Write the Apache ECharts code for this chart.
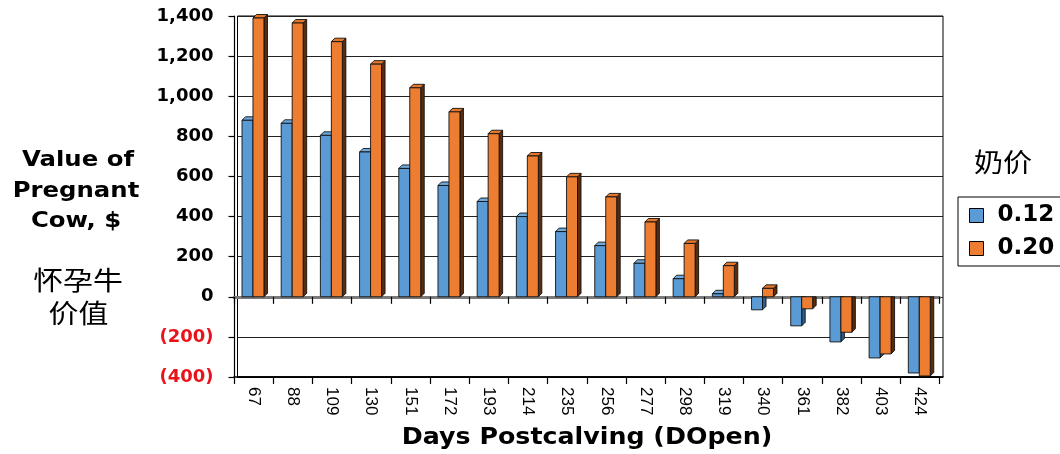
<!DOCTYPE html>
<html>
<head>
<meta charset="utf-8">
<script src="https://cdn.jsdelivr.net/npm/echarts@6/dist/echarts.min.js"></script>
<style>
  html, body { margin: 0; padding: 0; background: #fff; }
  #chart { width: 1060px; height: 454px; }
</style>
</head>
<body>
<div id="chart"></div>
<script>
// Days open after calving (category axis)
const days = ['67', '88', '109', '130', '151', '172', '193', '214', '235',
              '256', '277', '298', '319', '340', '361', '382', '403', '424'];
// Value of a pregnant cow ($) at two milk prices
const milk012 = [880, 865, 805, 722, 640, 555, 475, 400, 325,
                 255, 167, 90, 15, -65, -145, -225, -305, -380];
const milk020 = [1390, 1365, 1272, 1160, 1042, 922, 813, 702, 598,
                 498, 373, 266, 155, 42, -60, -177, -285, -395];
const seriesNames = ['0.12', '0.20'];
// Value axis range and step
const yMin = -400, yMax = 1400, yStep = 200;

const BOLD = 'DejaVu Sans';
const DEPTH = 3.5;   // fake 3-D depth in px

function withCommas(n) {
  return String(n).replace(/\B(?=(\d{3})+(?!\d))/g, ',');
}

// Pseudo 3-D column: front face, right side face and top face
function column3d(shift, front, sideCol, topCol) {
  return function (params, api) {
    const cat = api.value(0), v = api.value(1);
    const p = api.coord([cat, v]);
    const z = api.coord([cat, 0]);
    const band = api.size([1, 0])[0];
    const w = band * 0.28;
    const x0 = p[0] + shift * band, x1 = x0 + w;
    const yt = Math.min(p[1], z[1]), yb = Math.max(p[1], z[1]);
    const d = DEPTH;
    const stroke = { stroke: '#111', lineWidth: 0.9 };
    const kids = [];
    if (v >= 0) {
      kids.push({ type: 'polygon', shape: { points: [[x1, yt], [x1 + d, yt - d], [x1 + d, yb - d], [x1, yb]] },
                  style: Object.assign({ fill: sideCol }, stroke) });
      kids.push({ type: 'polygon', shape: { points: [[x0, yt], [x1, yt], [x1 + d, yt - d], [x0 + d, yt - d]] },
                  style: Object.assign({ fill: topCol }, stroke) });
    } else {
      kids.push({ type: 'polygon', shape: { points: [[x1, yt], [x1 + d, yt], [x1 + d, yb - d], [x1, yb]] },
                  style: Object.assign({ fill: sideCol }, stroke) });
    }
    kids.push({ type: 'rect', shape: { x: x0, y: yt, width: w, height: yb - yt },
                style: Object.assign({ fill: front }, stroke) });
    return { type: 'group', children: kids };
  };
}

const chart = echarts.init(document.getElementById('chart'), null, { renderer: 'canvas' });

chart.setOption({
  animation: false,
  backgroundColor: '#fff',
  grid: [
    // back wall: gridlines and columns
    { left: 237.5, right: 117, top: 16, bottom: 77,
      show: true, borderColor: '#000', borderWidth: 1, backgroundColor: 'transparent' },
    // front edge: category ticks and labels
    { left: 234, right: 120.5, top: 16, bottom: 77, show: false }
  ],
  legend: {
    orient: 'vertical',
    left: 958, top: 197,
    borderColor: '#000', borderWidth: 1,
    padding: [7, 24, 6, 11],
    itemGap: 10,
    itemWidth: 14, itemHeight: 14,
    icon: 'rect',
    itemStyle: { borderColor: '#000', borderWidth: 1 },
    formatter: name => '{t|' + name + '}',
    textStyle: {
      rich: { t: { fontFamily: BOLD, fontWeight: 'bold', fontSize: 23, color: '#000',
                   lineHeight: 26, padding: [0, 0, 0, 9] } }
    },
    data: seriesNames
  },
  xAxis: [
    {
      type: 'category', data: days, gridIndex: 0,
      position: 'bottom',
      axisLine: { onZero: false, lineStyle: { color: '#000', width: 1.5 } },
      axisTick: { show: false },
      axisLabel: { show: false },
      splitLine: { show: false }
    },
    {
      type: 'category', data: days, gridIndex: 1,
      position: 'bottom',
      axisLine: { onZero: false, lineStyle: { color: '#000', width: 1.5 } },
      axisTick: { show: true, length: 7, lineStyle: { color: '#000', width: 1.2 } },
      axisLabel: {
        rotate: -90, margin: 10, interval: 0,
        fontFamily: 'Liberation Sans, Arial', fontSize: 17, color: '#000'
      },
      splitLine: { show: false }
    },
    {
      type: 'category', data: days, gridIndex: 1,
      position: 'top',
      axisLine: { onZero: true, lineStyle: { color: '#7a7a7a', width: 3 } },
      axisTick: { show: true, inside: true, length: 7, lineStyle: { color: '#000', width: 1.2 } },
      axisLabel: { show: false },
      splitLine: { show: false }
    }
  ],
  yAxis: [
    {
      type: 'value', gridIndex: 0,
      min: yMin, max: yMax, interval: yStep,
      offset: 3,
      axisLine: { show: true, lineStyle: { color: '#000', width: 1.2 } },
      axisTick: { show: true, length: 6, lineStyle: { color: '#000', width: 1.2 } },
      axisLabel: {
        margin: 21,
        fontFamily: BOLD, fontWeight: 'bold', fontSize: 18, color: '#000',
        formatter: v => v < 0 ? '{neg|(' + withCommas(Math.abs(v)) + ')}' : withCommas(v),
        rich: { neg: { color: '#E8141B', fontFamily: BOLD, fontWeight: 'bold', fontSize: 18 } }
      },
      splitLine: { show: true, lineStyle: { color: '#222', width: 1.2 } }
    },
    {
      type: 'value', gridIndex: 1,
      min: yMin, max: yMax, interval: yStep,
      show: false
    }
  ],
  series: [
    {
      name: seriesNames[0],
      type: 'custom',
      xAxisIndex: 0, yAxisIndex: 0,
      itemStyle: { color: '#5B9BD5' },
      encode: { x: 0, y: 1 },
      renderItem: column3d(-0.385, '#5B9BD5', '#2F5E8E', '#6FA9DE'),
      data: milk012.map((v, i) => [i, v])
    },
    {
      name: seriesNames[1],
      type: 'custom',
      xAxisIndex: 0, yAxisIndex: 0,
      itemStyle: { color: '#ED7D31' },
      encode: { x: 0, y: 1 },
      renderItem: column3d(-0.105, '#ED7D31', '#5A2C0E', '#E3772C'),
      data: milk020.map((v, i) => [i, v])
    }
  ],
  graphic: [
    { type: 'text', x: 78, y: 161, scaleX: 1.16,
      style: { text: 'Value of', font: 'bold 21px "DejaVu Sans"', fill: '#000', textAlign: 'center', textVerticalAlign: 'middle' } },
    { type: 'text', x: 76, y: 192, scaleX: 1.16,
      style: { text: 'Pregnant', font: 'bold 21px "DejaVu Sans"', fill: '#000', textAlign: 'center', textVerticalAlign: 'middle' } },
    { type: 'text', x: 76, y: 222, scaleX: 1.16,
      style: { text: 'Cow, $', font: 'bold 21px "DejaVu Sans"', fill: '#000', textAlign: 'center', textVerticalAlign: 'middle' } },
    { type: 'text', x: 78, y: 280, scaleX: 1.15,
      style: { text: '怀孕牛', font: '26px "Noto Sans CJK SC"', fill: '#000', textAlign: 'center', textVerticalAlign: 'middle' } },
    { type: 'text', x: 78.5, y: 313, scaleX: 1.15,
      style: { text: '价值', font: '26px "Noto Sans CJK SC"', fill: '#000', textAlign: 'center', textVerticalAlign: 'middle' } },
    { type: 'text', x: 1003, y: 162, scaleX: 1.12,
      style: { text: '奶价', font: '26px "Noto Sans CJK SC"', fill: '#000', textAlign: 'center', textVerticalAlign: 'middle' } },
    { type: 'text', x: 587, y: 438, scaleX: 1.1,
      style: { text: 'Days Postcalving (DOpen)', font: 'bold 23px "DejaVu Sans"', fill: '#000', textAlign: 'center', textVerticalAlign: 'middle' } }
  ]
});
</script>
</body>
</html>
